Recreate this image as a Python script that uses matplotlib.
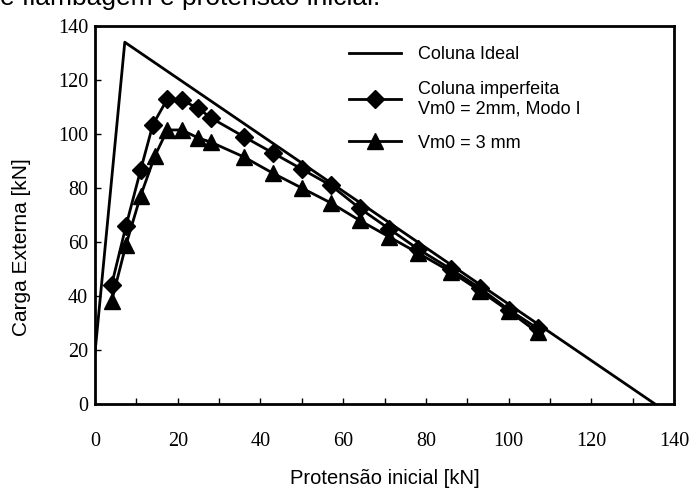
import matplotlib.pyplot as plt
from matplotlib.lines import Line2D

# Coluna ideal
ideal_x = [0, 7.2, 135.4]
ideal_y = [19, 134, 0]

# Coluna imperfeita, Vm0 = 2 mm (Modo I)
prot_2mm = [4, 7.5, 11, 14, 17.5, 21, 25, 28, 36, 43, 50, 57, 64, 71, 78, 86, 93, 100, 107]
carga_2mm = [44, 66, 86.5, 103.5, 113, 112.5, 109.5, 106, 99, 93, 87, 81, 72.5, 65, 57.5, 50, 43, 35, 28]

# Vm0 = 3 mm
prot_3mm = [4, 7.5, 11, 14.5, 17.5, 21, 25, 28, 36, 43, 50, 57, 64, 71, 78, 86, 93, 100, 107]
carga_3mm = [38, 59, 77, 92, 101.5, 101.5, 98.5, 97, 91.5, 85.5, 80, 74.5, 68, 62, 56, 49, 42, 34.5, 26.5]

x_ticks = [0, 20, 40, 60, 80, 100, 120, 140]
y_ticks = [0, 20, 40, 60, 80, 100, 120, 140]

serif = "Liberation Serif"
sans = "Liberation Sans"

fig = plt.figure(figsize=(6.94, 4.91), dpi=100)
ax = fig.add_axes([0.1369, 0.1772, 0.8343, 0.7698])

ax.plot(ideal_x, ideal_y, color="black", lw=2)
ax.plot(prot_2mm, carga_2mm, color="black", lw=2, marker="D", ms=9)
ax.plot(prot_3mm, carga_3mm, color="black", lw=2, marker="^", ms=11)

ax.set_xlim(0, 140)
ax.set_ylim(0, 140)
ax.set_xticks(x_ticks)
ax.set_yticks(y_ticks)
ax.set_xticks(range(0, 140, 10), minor=True)
ax.tick_params(axis="both", which="both", direction="in", length=4, width=1)
ax.tick_params(axis="x", which="major", pad=20)
ax.tick_params(axis="y", which="major", pad=5)
for lab in ax.get_xticklabels() + ax.get_yticklabels():
    lab.set_fontfamily(serif)
    lab.set_fontsize(14.5)
for side in ax.spines.values():
    side.set_linewidth(2)

ax.set_xlabel("Protensão inicial [kN]", fontfamily=sans, fontsize=14.5)
ax.set_ylabel("Carga Externa [kN]", fontfamily=sans, fontsize=15)
ax.xaxis.set_label_coords(0.5, -0.172)
ax.yaxis.set_label_coords(-0.11, 0.415)

handles = [
    Line2D([], [], color="black", lw=2),
    Line2D([], [], color="black", lw=2, marker="D", ms=9),
    Line2D([], [], color="black", lw=2, marker="^", ms=11),
]
labels = ["Coluna Ideal", "Coluna imperfeita\nVm0 = 2mm, Modo I", "Vm0 = 3 mm"]
ax.legend(handles, labels, loc="upper left", bbox_to_anchor=(0.41, 0.99),
          frameon=False, prop={"family": sans, "size": 13},
          handlelength=2.9, handletextpad=0.95, labelspacing=0.97)

# fragment of the caption line above the chart
fig.text(0.0, 1 - 5 / 491, "e flambagem e protensão inicial.", fontfamily=sans,
         fontsize=19, va="baseline", ha="left")

fig.savefig("out.png", dpi=100)
